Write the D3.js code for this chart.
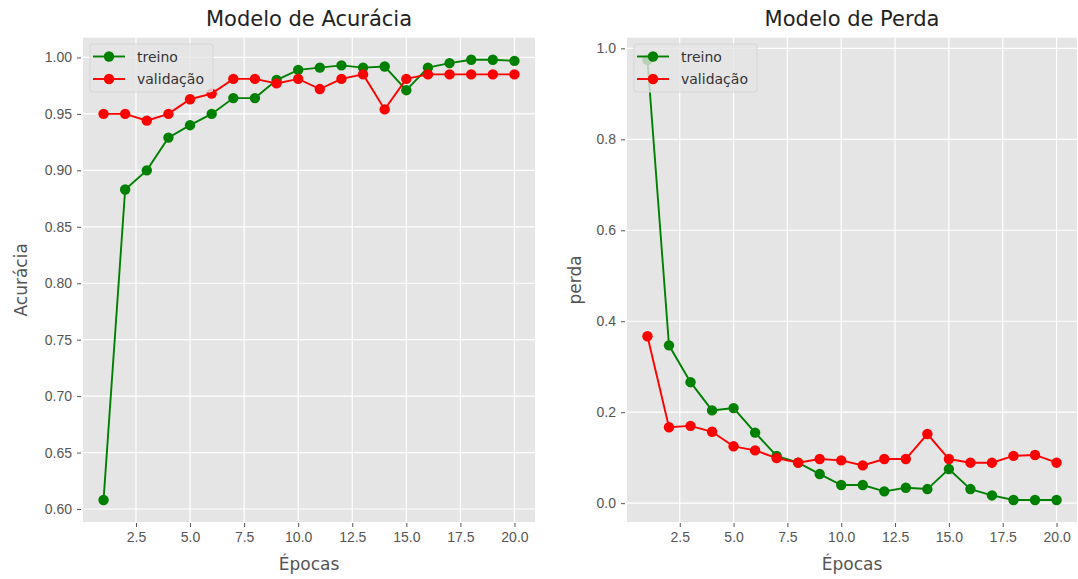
<!DOCTYPE html>
<html>
<head>
<meta charset="utf-8">
<script src="https://cdn.jsdelivr.net/npm/d3@7"></script>
<style>
  body { margin: 0; background: #fff; }
  svg { display: block; font-family: "DejaVu Sans", sans-serif; }
</style>
</head>
<body>
<svg id="chart" width="1078" height="579"></svg>
<script>
// epochs 1..20
var epocas = [1,2,3,4,5,6,7,8,9,10,11,12,13,14,15,16,17,18,19,20];

var acc_treino = [0.608,0.883,0.900,0.929,0.940,0.950,0.964,0.964,0.980,0.989,
                  0.991,0.993,0.991,0.992,0.971,0.991,0.995,0.998,0.998,0.997];
var acc_validacao = [0.950,0.950,0.944,0.950,0.963,0.968,0.981,0.981,0.977,0.981,
                     0.972,0.981,0.985,0.954,0.981,0.985,0.985,0.985,0.985,0.985];

var perda_treino = [0.975,0.347,0.266,0.204,0.209,0.155,0.104,0.089,0.064,0.040,
                    0.040,0.026,0.034,0.031,0.075,0.031,0.017,0.007,0.007,0.007];
var perda_validacao = [0.367,0.167,0.170,0.157,0.125,0.116,0.099,0.089,0.097,0.094,
                       0.083,0.097,0.097,0.152,0.097,0.089,0.089,0.104,0.106,0.089];

var xTicks = [2.5,5.0,7.5,10.0,12.5,15.0,17.5,20.0];
var accTicks = [0.60,0.65,0.70,0.75,0.80,0.85,0.90,0.95,1.00];
var perdaTicks = [0.0,0.2,0.4,0.6,0.8,1.0];

var svg = d3.select("#chart");

// matplotlib style padding, 5% each side
function padded(vals) {
  var ext = d3.extent(vals);
  var m = (ext[1] - ext[0]) * 0.05;
  return [ext[0] - m, ext[1] + m];
}

function drawPanel(opts) {
  var left = opts.left, right = opts.right, top = 37.7, bottom = 522;
  var g = svg.append("g");

  var x = d3.scaleLinear().domain(padded(epocas)).range([left, right]);
  var y = d3.scaleLinear().domain(padded(opts.series[0].values.concat(opts.series[1].values))).range([bottom, top]);

  g.append("rect")
    .attr("x", left).attr("y", top)
    .attr("width", right - left).attr("height", bottom - top)
    .attr("fill", "#e5e5e5");

  // grid
  g.selectAll(".gx").data(xTicks).enter().append("line")
    .attr("x1", d => x(d)).attr("x2", d => x(d))
    .attr("y1", top).attr("y2", bottom)
    .attr("stroke", "#fff").attr("stroke-width", 1.2);
  g.selectAll(".gy").data(opts.yTicks).enter().append("line")
    .attr("x1", left).attr("x2", right)
    .attr("y1", d => y(d)).attr("y2", d => y(d))
    .attr("stroke", "#fff").attr("stroke-width", 1.2);

  // axes
  var xAxis = d3.axisBottom(x).tickValues(xTicks).tickFormat(d3.format(".1f"))
    .tickSize(4).tickPadding(5);
  var yAxis = d3.axisLeft(y).tickValues(opts.yTicks).tickFormat(d3.format(opts.yFmt))
    .tickSize(4).tickPadding(5);

  var gx = g.append("g").attr("transform", "translate(0," + (bottom + 1) + ")").call(xAxis);
  var gy = g.append("g").attr("transform", "translate(" + (left - 2) + ",0)").call(yAxis);
  [gx, gy].forEach(function(a) {
    a.select(".domain").remove();
    a.selectAll("line").attr("stroke", "#555").attr("stroke-width", 1);
    a.selectAll("text").attr("fill", "#555").style("font-size", "14px");
  });

  // lines + markers
  opts.series.forEach(function(s) {
    var line = d3.line().x((d, i) => x(epocas[i])).y(d => y(d));
    g.append("path").datum(s.values)
      .attr("d", line).attr("fill", "none")
      .attr("stroke", s.color).attr("stroke-width", 1.9);
    g.selectAll(null).data(s.values).enter().append("circle")
      .attr("cx", (d, i) => x(epocas[i])).attr("cy", d => y(d))
      .attr("r", 5.2).attr("fill", s.color);
  });

  // title + labels
  g.append("text")
    .attr("x", (left + right) / 2).attr("y", 26)
    .attr("text-anchor", "middle")
    .style("font-size", "21px").attr("fill", "#222")
    .text(opts.title);
  g.append("text")
    .attr("x", (left + right) / 2).attr("y", 570)
    .attr("text-anchor", "middle")
    .style("font-size", "17px").attr("fill", "#555")
    .text("Épocas");
  g.append("text")
    .attr("transform", "translate(" + opts.ylabelX + "," + ((top + bottom) / 2) + ") rotate(-90)")
    .attr("text-anchor", "middle")
    .style("font-size", "17px").attr("fill", "#555")
    .text(opts.ylabel);

  // legend
  var lg = g.append("g").attr("transform", "translate(" + (left + 7) + "," + 44 + ")");
  lg.append("rect")
    .attr("width", 123).attr("height", 48).attr("rx", 3)
    .attr("fill", "#e5e5e5").attr("fill-opacity", 0.8)
    .attr("stroke", "#d6d6d6").attr("stroke-width", 1);
  opts.series.forEach(function(s, i) {
    var yy = 12.5 + i * 22.5;
    lg.append("line").attr("x1", 3).attr("x2", 35).attr("y1", yy).attr("y2", yy)
      .attr("stroke", s.color).attr("stroke-width", 1.9);
    lg.append("circle").attr("cx", 19).attr("cy", yy).attr("r", 5.2).attr("fill", s.color);
    lg.append("text").attr("x", 47).attr("y", yy + 5)
      .style("font-size", "14px").attr("fill", "#333")
      .text(s.name);
  });
}

drawPanel({
  left: 83, right: 535,
  title: "Modelo de Acurácia", ylabel: "Acurácia", ylabelX: 27,
  yTicks: accTicks, yFmt: ".2f",
  series: [
    { name: "treino", values: acc_treino, color: "green" },
    { name: "validação", values: acc_validacao, color: "red" }
  ]
});

drawPanel({
  left: 627, right: 1077,
  title: "Modelo de Perda", ylabel: "perda", ylabelX: 581,
  yTicks: perdaTicks, yFmt: ".1f",
  series: [
    { name: "treino", values: perda_treino, color: "green" },
    { name: "validação", values: perda_validacao, color: "red" }
  ]
});
</script>
</body>
</html>
